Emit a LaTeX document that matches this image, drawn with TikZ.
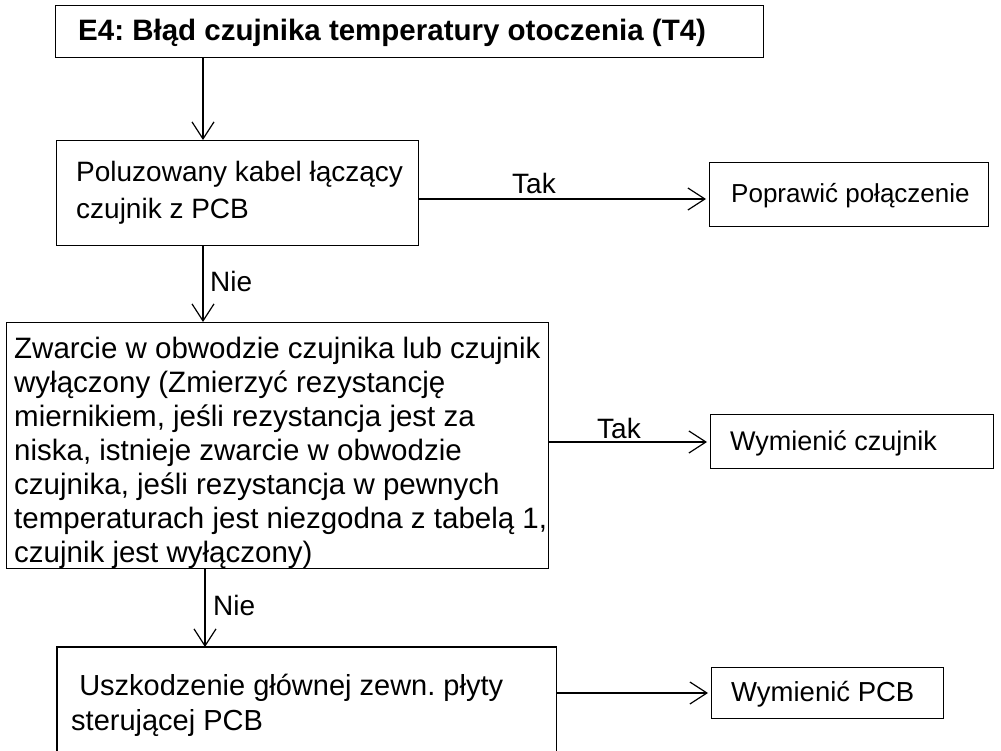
\documentclass[tikz,border=0pt]{standalone}
\usepackage{fontspec}
\setmainfont{Liberation Sans}
\usetikzlibrary{arrows.meta}
\begin{document}
\frenchspacing
\begin{tikzpicture}[x=1pt,y=-1pt,
  txt/.style={font=\fontsize{28}{37}\selectfont, inner sep=0pt, anchor=base west, align=left},
  frame/.style={draw, line width=1.2pt, rectangle, anchor=north west, inner sep=0pt},
  conn/.style={line width=1.2pt, -{Straight Barb[length=17pt,width=22pt,line width=1.2pt]}},
  lbl/.style={font=\fontsize{28}{37}\selectfont, inner sep=0pt, anchor=base west}
]
\useasboundingbox (0,0) rectangle (1001,751);

% frames
\node[frame, minimum width=708pt, minimum height=52pt] (title) at (55,5) {};
\node[frame, minimum width=362pt, minimum height=105pt] (cable) at (56,140) {};
\node[frame, minimum width=279pt, minimum height=64pt] (fix) at (709,162) {};
\node[frame, minimum width=542pt, minimum height=246pt] (short) at (6,322) {};
\node[frame, minimum width=283pt, minimum height=54pt] (sensor) at (710,414) {};
\node[frame, draw=none, minimum width=498pt, minimum height=104pt] (pcbfault) at (57,647) {};
\node[frame, minimum width=232pt, minimum height=51pt] (pcb) at (711,667) {};

% the last box runs off the bottom edge: no lower side
\draw[line width=1.2pt] (pcbfault.south west) -- (pcbfault.north west)
  -- (pcbfault.north east) -- (pcbfault.south east);

% texts (multi-line texts are anchored at the baseline of their last line)
\node[txt, font=\fontsize{29.5}{37}\selectfont\bfseries] (title-t) at (78,41)
  {E4: Błąd czujnika temperatury otoczenia (T4)};
\node[txt] (cable-t) at (76,219) {Poluzowany kabel łączący\\czujnik z PCB};
\node[txt, font=\fontsize{26}{37}\selectfont] (fix-t) at (731,203) {Poprawić połączenie};
\node[txt, font=\fontsize{29.5}{34}\selectfont] (short-t) at (14,562)
  {Zwarcie w obwodzie czujnika lub czujnik\\
   wyłączony (Zmierzyć rezystancję\\
   miernikiem, jeśli rezystancja jest za\\
   niska, istnieje zwarcie w obwodzie\\
   czujnika, jeśli rezystancja w pewnych\\
   temperaturach jest niezgodna z tabelą 1,\\
   czujnik jest wyłączony)};
\node[txt, font=\fontsize{27}{37}\selectfont] (sensor-t) at (730,450) {Wymienić czujnik};
\node[txt, font=\fontsize{29}{35}\selectfont] (pcbfault-t) at (71,730)
  {\ Uszkodzenie głównej zewn. płyty\\sterującej PCB};
\node[txt, font=\fontsize{27.5}{37}\selectfont] (pcb-t) at (731,701) {Wymienić PCB};

% guide coordinates for the connectors
\coordinate (v1) at (203,0);
\coordinate (v2) at (205,0);
\coordinate (h1) at (0,199);
\coordinate (h2) at (0,442);
\coordinate (h3) at (0,693);

% connectors
\draw[conn] (title.south -| v1) -- (cable.north -| v1);
\draw[conn] (cable.east |- h1) -- ([xshift=-3pt]fix.west |- h1);
\draw[conn] (cable.south -| v1) -- (short.north -| v1);
\draw[conn] (short.east |- h2) -- ([xshift=-3pt]sensor.west |- h2);
\draw[conn] (short.south -| v2) -- (pcbfault.north -| v2);
\draw[conn] (pcbfault.east |- h3) -- ([xshift=-3pt]pcb.west |- h3);

% branch labels
\node[lbl] (yes1) at (512,194) {Tak};
\node[lbl] (yes2) at (597,438) {Tak};
\node[lbl] (no1) at (210,292) {Nie};
\node[lbl] (no2) at (213,615) {Nie};
\end{tikzpicture}
\end{document}
